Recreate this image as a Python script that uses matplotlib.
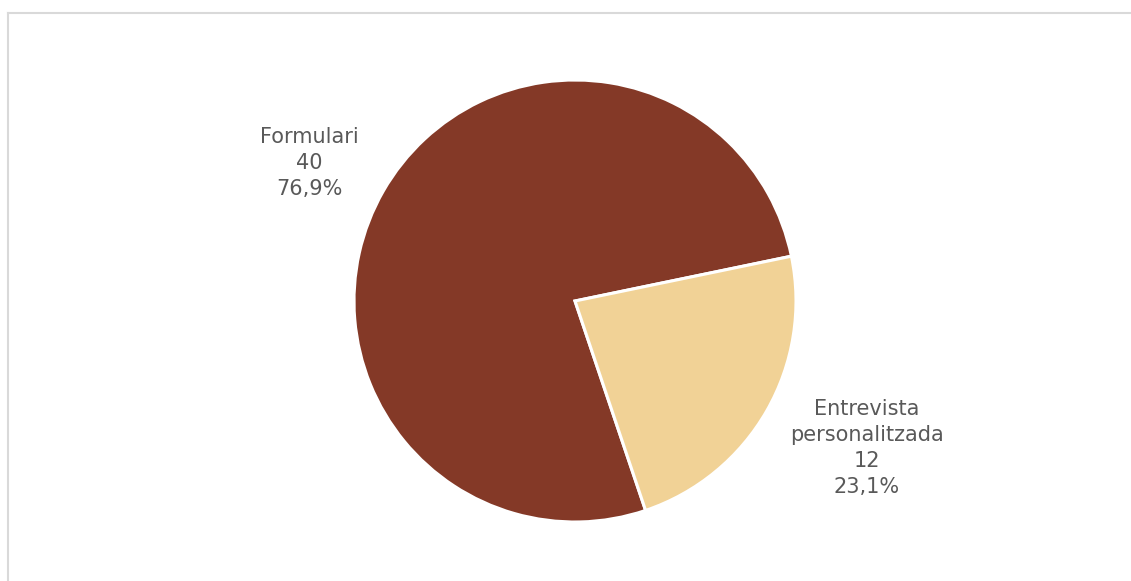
import matplotlib.pyplot as plt
from matplotlib.lines import Line2D

labels = ["Formulari", "Entrevista\npersonalitzada"]
values = [40, 12]
colors = ["#843927", "#f1d296"]

W, H = 1131, 581
fig = plt.figure(figsize=(W / 100, H / 100), dpi=100)
ax = fig.add_axes([0, 0, 1, 1])

total = sum(values)
cx, cy, r = 575, H - 301, 221
ax.pie(values, colors=colors, startangle=11.7, counterclock=True,
       center=(cx, cy), radius=r,
       wedgeprops=dict(edgecolor="white", linewidth=2.2))

# labels with value and percentage, placed like the original
label_pos = [(309, H - 163), (867, H - 448)]
for lab, v, (x, y) in zip(labels, values, label_pos):
    pct = f"{v / total * 100:.1f}%".replace(".", ",")
    ax.text(x, y, f"{lab}\n{v}\n{pct}", ha="center", va="center",
            fontsize=15, color="#595959", linespacing=1.38,
            family=["DejaVu Sans"])

ax.set_xlim(0, W)
ax.set_ylim(0, H)
ax.set_aspect("equal")
ax.axis("off")

# light chart frame
fig.add_artist(Line2D([8 / W, 1], [1 - 13 / H, 1 - 13 / H], color="#d9d9d9", lw=1.5))
fig.add_artist(Line2D([8 / W, 8 / W], [0, 1 - 13 / H], color="#d9d9d9", lw=1.5))

fig.savefig("out.png", dpi=100, facecolor="white")
